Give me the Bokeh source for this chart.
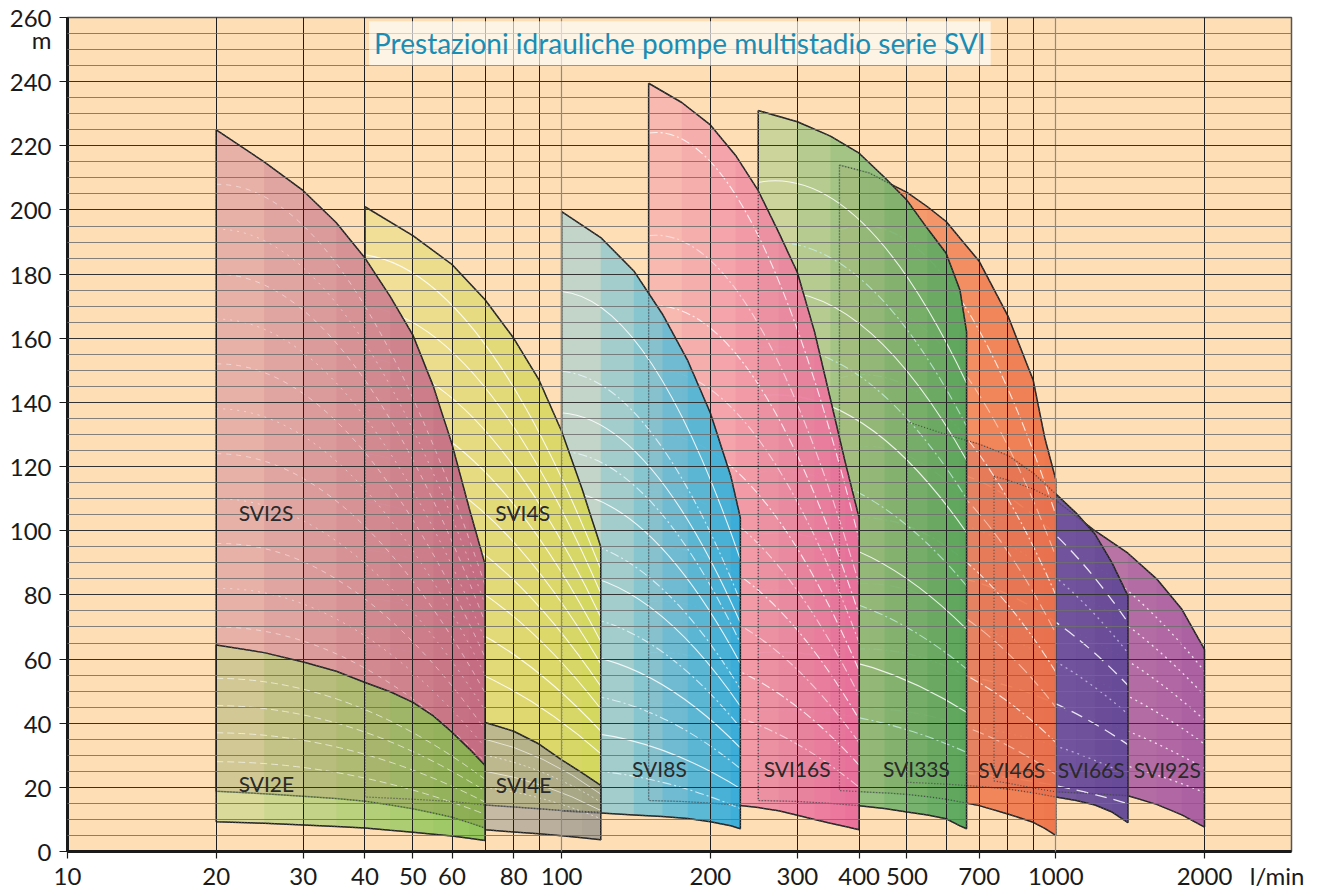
import math
from bokeh.plotting import figure
from bokeh.models import FixedTicker, Grid, Label, LogAxis, LinearAxis, ColumnDataSource
from bokeh.embed import file_html
from bokeh.resources import INLINE

# ---------------- data ----------------
x_ticks = [10, 20, 30, 40, 50, 60, 80, 100, 200, 300, 400, 500, 700, 1000, 2000]
x_unit_pos = 2860
x_unit = "l/min"
y_ticks = list(range(0, 261, 20))
y_unit_pos = 253
y_unit = "m"
vgrid_dark = [20, 30, 40, 50, 60, 70, 80, 90, 200, 300, 400, 500, 600, 700, 800, 900, 2000]
vgrid_grey = [100, 1000]
hgrid_minor = [v for v in range(5, 260, 5) if v % 20]
hgrid_major = list(range(20, 260, 20))

title_text = "Prestazioni idrauliche pompe multistadio serie SVI"

# envelope of each series: flow (l/min), max head, min head (m)
q_svi2s = [20, 25, 30, 35, 40, 45, 50, 55, 60, 65, 70]
top_svi2s = [225, 215, 206, 196, 185, 173, 161, 145, 127, 107, 89.5]
bot_svi2s = [18.8, 18, 17.2, 16.5, 15.7, 14.5, 13.3, 12, 10.7, 9, 7.3]

q_svi2e = [20, 25, 30, 35, 40, 45, 50, 55, 60, 65, 70]
top_svi2e = [64.4, 62, 59.1, 56.2, 52.7, 49.8, 46.5, 42.3, 37.2, 32, 26.8]
bot_svi2e = [9.3, 8.8, 8.3, 7.8, 7.3, 6.6, 6.0, 5.4, 4.8, 4.1, 3.4]

q_svi4s = [40, 50, 60, 70, 80, 90, 100, 110, 120]
top_svi4s = [201, 192, 183, 172, 160, 147, 131, 113, 95]
bot_svi4s = [17, 16.3, 15.6, 14.5, 13.9, 13.3, 12.8, 12.5, 12.2]

q_svi4e = [70, 80, 90, 100, 110, 120]
top_svi4e = [40.2, 37.5, 33.5, 28.6, 24.5, 20.6]
bot_svi4e = [6.8, 6.1, 5.5, 4.9, 4.3, 3.7]

q_svi8s = [100, 120, 140, 160, 180, 200, 220, 230]
top_svi8s = [199.5, 191.4, 181, 167.5, 153, 136.7, 117, 104]
bot_svi8s = [12.6, 12.0, 11.4, 10.9, 10.3, 9.3, 8.0, 7.1]

q_svi16s = [150, 175, 200, 225, 250, 275, 300, 325, 350, 375, 400]
top_svi16s = [239.5, 233.5, 226.5, 217, 206, 193, 180.5, 162, 141, 121.3, 104]
bot_svi16s = [15.9, 15.6, 15.1, 14.5, 13.7, 12.7, 11.3, 10.0, 8.8, 7.8, 6.8]

q_svi33s = [250, 300, 350, 400, 450, 500, 550, 600, 640, 660]
top_svi33s = [231, 227.5, 223, 217.7, 210.2, 203, 194.2, 186.5, 175, 162]
bot_svi33s = [15.9, 15.6, 15.0, 14.3, 13.4, 12.3, 11.4, 10.2, 8.0, 7.1]

q_svi46s = [365, 420, 460, 500, 550, 600, 700, 800, 900, 950, 1000]
top_svi46s = [214, 211.5, 208.3, 205.5, 201, 196.4, 184, 167, 147, 129, 116]
bot_svi46s = [19, 18.5, 18.2, 17.8, 17.1, 16.3, 14.3, 11.7, 9.1, 7.2, 5.0]

q_svi66s = [500, 600, 700, 800, 900, 1000, 1100, 1200, 1300, 1400]
top_svi66s = [134, 130, 127, 123.5, 118, 111.5, 105.5, 99, 90, 79.7]
bot_svi66s = [21.6, 21, 20.3, 19.5, 18.3, 17, 15.9, 14.5, 12.3, 9]

q_svi92s = [750, 800, 900, 1000, 1200, 1400, 1600, 1800, 2000]
top_svi92s = [117, 115.8, 113, 109.5, 100, 93, 85, 75.5, 63]
bot_svi92s = [22, 21.3, 19.8, 18.6, 18, 17.4, 14.7, 11.4, 7.6]

# single-model curves inside each field: head at left edge, at mid flow, at right edge (m)
wl_svi2s = [208, 194, 180, 166, 152, 138, 124, 110, 96, 82, 70]
wm_svi2s = [177, 165, 153, 141, 129.5, 117.5, 105.5, 93.5, 82, 70, 59.5]
wr_svi2s = [83, 77, 71.5, 66, 60.5, 55, 49.5, 44, 38, 32.5, 28]

wl_svi2e = [54, 45.5, 37, 28]
wm_svi2e = [46, 38.7, 31.5, 23.8]
wr_svi2e = [22.5, 18.9, 15.4, 11.6]

wl_svi4s = [186, 170, 154, 139, 124, 109, 94, 79, 64]
wm_svi4s = [159, 145.5, 132, 119, 106, 93, 80.5, 67.5, 55]
wr_svi4s = [88, 80.5, 73, 65.5, 58.5, 51.5, 44.5, 37.5, 30.5]

wl_svi4e = [35, 30, 25, 20]
wm_svi4e = [28.7, 24.6, 20.5, 16.4]
wr_svi4e = [17.9, 15.4, 12.8, 10.2]

wl_svi8s = [174.6, 149.7, 136.8, 124.8, 112.4, 97.3, 87, 74, 62, 49.5, 37.6, 25.7]
wm_svi8s = [152.4, 130.7, 119.4, 109, 98, 85, 76, 64.6, 54, 43.2, 32.8, 22.4]
wr_svi8s = [91, 78, 71.3, 65, 58.6, 50.7, 45.3, 38.6, 32.3, 25.8, 19.6, 13.4]

wl_svi16s = [224, 192, 170, 150, 130, 112, 95, 78, 62, 46]
wm_svi16s = [194.7, 166.8, 147.7, 130.4, 113, 97.3, 82.6, 67.8, 53.9, 40]
wr_svi16s = [97.2, 83.3, 73.8, 65.1, 56.4, 48.6, 41.2, 33.9, 26.9, 20]

wl_svi33s = [208.6, 189.4, 174.3, 157, 142, 118.3, 99, 81.3, 62, 44.1]
wm_svi33s = [196, 178, 163.8, 147.6, 133.5, 111.2, 93, 76.4, 58.3, 41.5]
wr_svi33s = [146, 132.6, 122, 110, 99.4, 82.8, 69.3, 56.9, 43.4, 30.9]

wl_svi46s = [193.7, 169.7, 147.6, 125.5, 103.3, 83, 62.7, 44.3]
wm_svi46s = [177.8, 155.8, 135.5, 115.2, 94.8, 76.2, 57.6, 40.7]
wr_svi46s = [105, 92, 80, 68, 56, 45, 34, 24]

wl_svi66s = [120, 104, 87, 72, 56, 40, 25]
wm_svi66s = [108.6, 94.1, 78.7, 65.2, 50.7, 36.2, 22.6]
wr_svi66s = [71.4, 61.9, 51.8, 42.8, 33.3, 23.8, 14.9]

wl_svi92s = [104, 90, 76, 62, 48, 34]
wm_svi92s = [88.4, 76.5, 64.6, 52.7, 40.8, 28.9]
wr_svi92s = [56.2, 48.6, 41, 33.5, 25.9, 18.4]

label_names = ["SVI2S", "SVI4S", "SVI2E", "SVI4E", "SVI8S", "SVI16S", "SVI33S", "SVI46S", "SVI66S", "SVI92S"]
label_q = [22.2, 73.4, 22.2, 73.6, 138.8, 256.4, 447, 697, 1009, 1439]
label_h = [105.6, 105.6, 21.1, 21.0, 26.0, 26.0, 26.0, 25.7, 25.7, 25.7]

# ---------------- styles ----------------
regions = {
    "SVI92S": (q_svi92s, top_svi92s, bot_svi92s, wl_svi92s, wm_svi92s, wr_svi92s),
    "SVI66S": (q_svi66s, top_svi66s, bot_svi66s, wl_svi66s, wm_svi66s, wr_svi66s),
    "SVI46S": (q_svi46s, top_svi46s, bot_svi46s, wl_svi46s, wm_svi46s, wr_svi46s),
    "SVI33S": (q_svi33s, top_svi33s, bot_svi33s, wl_svi33s, wm_svi33s, wr_svi33s),
    "SVI16S": (q_svi16s, top_svi16s, bot_svi16s, wl_svi16s, wm_svi16s, wr_svi16s),
    "SVI8S": (q_svi8s, top_svi8s, bot_svi8s, wl_svi8s, wm_svi8s, wr_svi8s),
    "SVI4S": (q_svi4s, top_svi4s, bot_svi4s, wl_svi4s, wm_svi4s, wr_svi4s),
    "SVI2S": (q_svi2s, top_svi2s, bot_svi2s, wl_svi2s, wm_svi2s, wr_svi2s),
    "SVI4E": (q_svi4e, top_svi4e, bot_svi4e, wl_svi4e, wm_svi4e, wr_svi4e),
    "SVI2E": (q_svi2e, top_svi2e, bot_svi2e, wl_svi2e, wm_svi2e, wr_svi2e),
}
z_order = ["SVI92S", "SVI66S", "SVI46S", "SVI33S", "SVI16S", "SVI8S", "SVI4S", "SVI2S", "SVI4E", "SVI2E"]
# (left colour, right colour, base alpha, gradient strength)
styles = {
    "SVI92S": ("#C283AC", "#A455A0", 0.85, 0.8),
    "SVI66S": ("#8C6EAA", "#5C4295", 0.85, 0.8),
    "SVI46S": ("#F6A272", "#EF6A42", 0.78, 0.8),
    "SVI33S": ("#CED49C", "#3E9E50", 0.8, 0.8),
    "SVI16S": ("#F8B8B2", "#EA5E98", 0.8, 0.8),
    "SVI8S": ("#C8D8CA", "#1EA8DE", 0.8, 0.85),
    "SVI4S": ("#F2E09A", "#D0D64E", 0.8, 0.8),
    "SVI2S": ("#E8B2AA", "#BE5A7A", 0.85, 0.8),
    "SVI4E": ("#AAA69E", "#8E8C86", 0.6, 0.5),
    "SVI2E": ("#CADE8F", "#66B830", 0.55, 0.6),
}
# curve styles: (dash, colour, alpha, width) for even / odd curves
SOLID = ("solid", "white", 0.85, 1.1)
DASHDOT = ("9 3 2 3", "#E8F8FF", 0.8, 1.1)
curve_styles = {
    "SVI92S": (("2 4", "white", 0.8, 1.3), ("2 4", "white", 0.8, 1.3)),
    "SVI66S": (("12 7", "white", 0.85, 1.3), ("2 4", "#D8D0F0", 0.7, 1.3)),
    "SVI46S": (("9 3 2 3", "white", 0.8, 1.1), ("12 5", "#FFD8C8", 0.7, 1.1)),
    "SVI33S": (SOLID, ("9 3 2 3", "#C8F0E8", 0.75, 1.1)),
    "SVI16S": (("9 3 2 3", "white", 0.8, 1.1), ("9 3 2 3", "#FFE8F0", 0.7, 1.1)),
    "SVI8S": (SOLID, DASHDOT),
    "SVI4S": (SOLID, SOLID),
    "SVI2S": (("5 5", "white", 0.45, 1.0), ("2 5", "white", 0.45, 1.0)),
    "SVI4E": (("solid", "white", 0.6, 1.0), ("2 3", "white", 0.6, 1.0)),
    "SVI2E": (("7 4", "white", 0.6, 1.0), ("7 4", "white", 0.6, 1.0)),
}

BG = "#FDDEB5"
FONT = "Lato"
TXT = "#1a1a1a"

p = figure(width=1304, height=892, x_axis_type="log", x_range=(10, 3000), y_range=(0, 260),
           x_axis_location=None, y_axis_location=None,
           output_backend="svg", toolbar_location=None,
           min_border_left=67, min_border_top=17, min_border_right=13, min_border_bottom=39)
p.background_fill_color = BG
p.border_fill_color = "white"
p.outline_line_color = "#555555"
p.outline_line_width = 1.5

outlines_x, outlines_y = [], []
for name in z_order:
    q, top, bot, wl, wm, wr = regions[name]
    q = list(q); top = list(top); bot = list(bot)
    cl, cr, A, tmax = styles[name]
    # field with a stepped left-to-right colour gradient
    xs_l = [q + q[::-1]]
    ys_l = [top + bot[::-1]]
    fc = [cl]
    fa = [A]
    lq = [math.log10(v) for v in q]
    span = lq[-1] - lq[0]
    prev = 0.0
    for k in range(len(q) - 1):
        u = ((lq[k] + lq[k + 1]) / 2 - lq[0]) / span
        t = tmax * u
        a = (t - prev) / (1 - prev)
        prev = t
        sq = q[k:]
        xs_l.append(sq + sq[::-1])
        ys_l.append(top[k:] + bot[k:][::-1])
        fc.append(cr)
        fa.append(a)
    src = ColumnDataSource(dict(xs=xs_l, ys=ys_l, fc=fc, fa=fa))
    p.patches("xs", "ys", source=src, fill_color="fc", fill_alpha="fa", line_alpha=0)

    # single-model curves (quadratic through left, mid and right heads)
    q_left, q_right = q[0], q[-1]
    q_mid = math.sqrt(q_left * q_right)
    for parity, st in enumerate(curve_styles[name]):
        idx = [i for i in range(len(wl)) if i % 2 == parity]
        if not idx:
            continue
        cs = ColumnDataSource(dict(
            x0=[q_left] * len(idx), y0=[wl[i] for i in idx],
            x1=[q_right] * len(idx), y1=[wr[i] for i in idx],
            cx=[q_mid] * len(idx), cy=[2 * wm[i] - (wl[i] + wr[i]) / 2 for i in idx]))
        p.quadratic("x0", "y0", "x1", "y1", "cx", "cy", source=cs,
                    line_dash=st[0], line_color=st[1], line_alpha=st[2], line_width=st[3])

    ox = q + q[::-1] + [q[0]]
    oy = top + bot[::-1] + [top[0]]
    p.line(ox, oy, line_color="#222222", line_width=1.5)
    outlines_x.append(ox)
    outlines_y.append(oy)

# hidden edges shown dotted
p.multi_line(outlines_x, outlines_y, line_color="#4a4a4a", line_width=1.2, line_dash="1 2")

# grids drawn above the fills
p.xgrid.ticker = FixedTicker(ticks=vgrid_dark)
p.xgrid.grid_line_color = "#1e1e1e"
p.xgrid.grid_line_width = 1
p.xgrid.level = "guide"
p.add_layout(Grid(dimension=0, ticker=FixedTicker(ticks=vgrid_grey), grid_line_color="#8a8a8a",
                  grid_line_width=1.2, level="guide"))
p.ygrid.ticker = FixedTicker(ticks=hgrid_minor)
p.ygrid.grid_line_color = "#6e6e6e"
p.ygrid.grid_line_width = 1
p.ygrid.grid_line_alpha = 0.85
p.ygrid.level = "guide"
p.add_layout(Grid(dimension=1, ticker=FixedTicker(ticks=hgrid_major), grid_line_color="#333333",
                  grid_line_width=1.1, level="guide"))

# axes: inner ones carry line + tick marks, outer ones carry the labels
def style_labels(ax, standoff):
    ax.axis_line_color = None
    ax.major_tick_line_color = None
    ax.minor_tick_line_color = None
    ax.major_tick_out = 0
    ax.major_tick_in = 0
    ax.major_label_text_font = FONT
    ax.major_label_text_font_size = "24px"
    ax.major_label_text_color = TXT
    ax.major_label_standoff = standoff

def style_marks(ax, tout):
    ax.axis_line_width = 3
    ax.axis_line_color = TXT
    ax.major_tick_out = tout
    ax.major_tick_in = 0
    ax.major_tick_line_color = TXT
    ax.major_tick_line_width = 1.2
    ax.minor_tick_line_color = None
    ax.major_label_text_font_size = "1px"
    ax.major_label_standoff = 0

xa_in = LogAxis(ticker=FixedTicker(ticks=x_ticks), major_label_overrides={t: "" for t in x_ticks})
style_marks(xa_in, 7)
p.add_layout(xa_in, "below")
xo = {t: str(t) for t in x_ticks}
xo[x_unit_pos] = x_unit
xa_out = LogAxis(ticker=FixedTicker(ticks=x_ticks + [x_unit_pos]), major_label_overrides=xo)
style_labels(xa_out, 2)
p.add_layout(xa_out, "below")

ya_in = LinearAxis(ticker=FixedTicker(ticks=y_ticks), major_label_overrides={t: "" for t in y_ticks})
style_marks(ya_in, 8)
p.add_layout(ya_in, "left")
yo = {t: str(t) for t in y_ticks}
yo[y_unit_pos] = y_unit
ya_out = LinearAxis(ticker=FixedTicker(ticks=y_ticks + [y_unit_pos]), major_label_overrides=yo)
style_labels(ya_out, 8)
p.add_layout(ya_out, "left")

# texts
p.add_layout(Label(x=173.5, y=252, text=title_text, text_align="center", text_baseline="middle",
                   text_color="#1A8DB4", text_font=FONT, text_font_size="28px",
                   background_fill_color="white", background_fill_alpha=0.65, padding=5))
for n, qx, hy in zip(label_names, label_q, label_h):
    p.add_layout(Label(x=qx, y=hy, text=n, text_align="left", text_baseline="middle",
                       text_color="#2a2a2a", text_font=FONT, text_font_size="21px"))

open("out.html", "w").write(file_html(p, INLINE))
